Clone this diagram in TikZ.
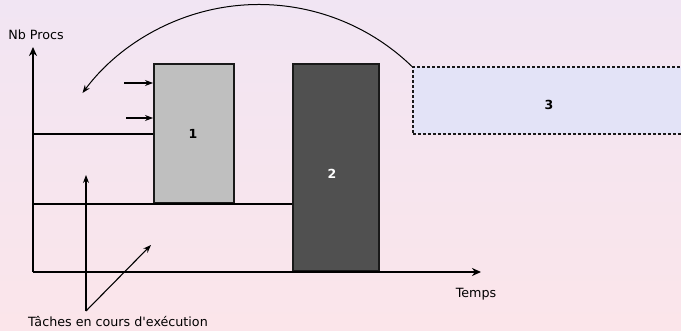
\documentclass[tikz,border=0pt]{standalone}
\usepackage{fontspec}
\setmainfont{DejaVu Sans}
\usetikzlibrary{arrows.meta}
\definecolor{bgtop}{RGB}{241,229,243}
\definecolor{bgbot}{RGB}{251,229,234}
\definecolor{boxone}{RGB}{191,191,191}
\definecolor{boxtwo}{RGB}{80,80,80}
\definecolor{boxthree}{RGB}{227,227,247}
\tikzset{
  lbl/.style={font=\fontsize{12.7}{15}\selectfont, inner sep=0pt},
  num/.style={font=\fontsize{12.5}{15}\selectfont\bfseries},
  taskbox/.style={draw=black!90, line width=1.5pt, inner sep=0pt, anchor=south west},
  axis/.style={line width=2pt, -{Stealth[length=9pt,width=8pt]}},
  thin arrow/.style={line width=1.1pt, -{Stealth[length=8pt,width=6pt]}},
  plainline/.style={line width=1.5pt},
}
\begin{document}
\begin{tikzpicture}[x=1pt,y=1pt]
\useasboundingbox (0,0) rectangle (681,330);
\clip (0,0) rectangle (681,330);
\shade[top color=bgtop, bottom color=bgbot] (0,0) rectangle (681,330);

% boxes
\node[taskbox, fill=boxone, minimum width=80pt, minimum height=139pt] (b1) at (153,126) {};
\node[num] (l1) at (193,196) {1};
\node[taskbox, fill=boxtwo, minimum width=86pt, minimum height=206pt] (b2) at (292,59) {};
\node[num, text=white] (l2) at (332,156) {2};
\node[taskbox, fill=boxthree, dash pattern=on 3pt off 2pt, minimum width=290pt, minimum height=67pt] (b3) at (412,195) {};
\node[num] (l3) at (549,225) {3};

% axes
\coordinate (o) at (33,58);
\coordinate (ytop) at (33,283);
\coordinate (xend) at (481,58);
\draw[axis] (o) -- (ytop);
\draw[axis] (o) -- (xend);
\node[lbl] (nb) at (36,295) {Nb Procs};
\node[lbl] (temps) at (476,36) {Temps};

% running tasks lines
\coordinate (h1) at (33,196);
\coordinate (h2) at (33,126);
\draw[plainline] (h1) -- (h1 -| b1.west);
\draw[plainline] (h2) -- (h2 -| b2.west);

% small arrows into box 1
\coordinate (s1) at (124,247);
\coordinate (s2) at (126,212);
\draw[thin arrow] (s1) -- (s1 -| b1.west);
\draw[thin arrow] (s2) -- (s2 -| b1.west);

% curved arrow
\draw[line width=1pt, -{Stealth[length=8pt,width=6pt]}] (b3.north west) arc[start angle=45.9, end angle=143.3, radius=220];

% label arrows
\node[lbl] (tasks) at (118,8) {Tâches en cours d\textquotesingle exécution};
\coordinate (lb) at (86,19);
\coordinate (t1) at (86,155);
\coordinate (t2) at (151,85);
\draw[thin arrow] (lb) -- (t1);
\draw[thin arrow] (lb) -- (t2);
\end{tikzpicture}
\end{document}
